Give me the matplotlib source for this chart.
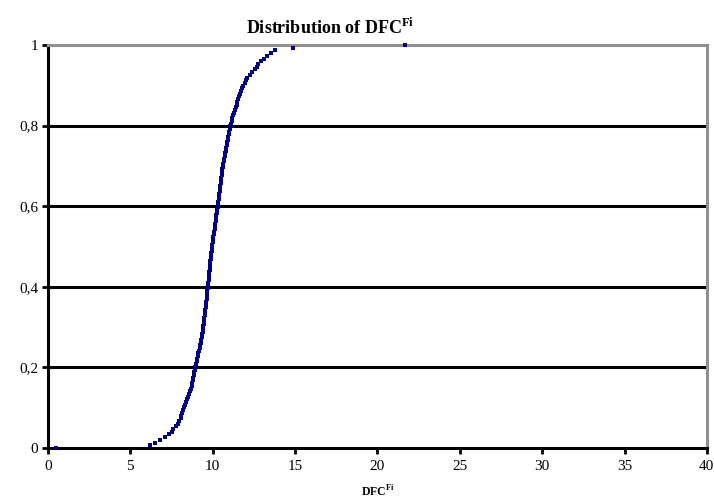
import numpy as np
import matplotlib.pyplot as plt

plt.rcParams['font.family'] = ['Liberation Serif', 'DejaVu Serif']
plt.rcParams['mathtext.fontset'] = 'custom'
plt.rcParams['mathtext.rm'] = 'Liberation Serif'
plt.rcParams['mathtext.bf'] = 'Liberation Serif:bold'

# sorted DFC^Fi sample values
dfc = [0.5, 6.2, 6.5, 6.8, 7.1, 7.35, 7.5, 7.62, 7.75, 7.9,
       7.98, 8.05, 8.1, 8.15, 8.2, 8.27, 8.33, 8.4, 8.46, 8.5,
       8.56, 8.62, 8.68, 8.72, 8.76, 8.8, 8.83, 8.86, 8.89, 8.92,
       8.95, 8.99, 9.03, 9.06, 9.1, 9.13, 9.17, 9.2, 9.24, 9.28,
       9.32, 9.35, 9.37, 9.39, 9.41, 9.43, 9.45, 9.47, 9.49, 9.51,
       9.53, 9.55, 9.57, 9.59, 9.61, 9.63, 9.64, 9.66, 9.68, 9.7,
       9.71, 9.73, 9.75, 9.76, 9.78, 9.8, 9.81, 9.83, 9.85, 9.86,
       9.88, 9.9, 9.91, 9.93, 9.95, 9.97, 10.0, 10.02, 10.04, 10.07,
       10.09, 10.11, 10.14, 10.16, 10.19, 10.21, 10.23, 10.26, 10.28, 10.3,
       10.32, 10.34, 10.36, 10.38, 10.4, 10.42, 10.44, 10.46, 10.48, 10.5,
       10.52, 10.54, 10.56, 10.58, 10.6, 10.63, 10.66, 10.69, 10.72, 10.75,
       10.78, 10.81, 10.84, 10.87, 10.9, 10.93, 10.96, 10.99, 11.02, 11.05,
       11.1, 11.15, 11.2, 11.25, 11.3, 11.35, 11.4, 11.45, 11.5, 11.55,
       11.6, 11.65, 11.7, 11.78, 11.86, 11.94, 12.02, 12.1, 12.25, 12.4,
       12.55, 12.7, 12.75, 12.95, 13.1, 13.3, 13.55, 13.8, 14.9, 21.7]

x_ticks = [0, 5, 10, 15, 20, 25, 30, 35, 40]
y_ticks = [0, 0.2, 0.4, 0.6, 0.8, 1]
y_labels = ['0', '0,2', '0,4', '0,6', '0,8', '1']

# empirical cumulative frequency
n = len(dfc)
freq = np.arange(n) / (n - 1)

fig = plt.figure(figsize=(7.14, 5.01), dpi=100)
ax = fig.add_axes([0.0672, 0.1058, 0.9228, 0.8042])

ax.plot(dfc, freq, linestyle='none', marker='s', markersize=2.3,
        markeredgewidth=0, color='#000080', zorder=4, clip_on=False)

for yv in y_ticks[1:-1]:
    ax.axhline(yv, color='black', linewidth=2.2, zorder=1)

ax.set_xlim(0, 40)
ax.set_ylim(0, 1)
ax.set_xticks(x_ticks)
ax.set_yticks(y_ticks)
ax.set_yticklabels(y_labels)
ax.tick_params(direction='out', length=4, width=2, colors='black',
               labelsize=11)
ax.tick_params(axis='x', pad=5)
ax.tick_params(axis='y', pad=3)

ax.spines['left'].set_linewidth(2.2)
ax.spines['bottom'].set_linewidth(2.2)
ax.spines['top'].set_color('#909090')
ax.spines['right'].set_color('#909090')
ax.spines['top'].set_linewidth(2.2)
ax.spines['right'].set_linewidth(2.2)

fig.text(330 / 714, 1 - 28 / 501, r'Distribution of DFC$^{\mathbf{Fi}}$',
         ha='center', va='center', fontsize=13, fontweight='bold')
fig.text(378 / 714, 1 - 491 / 501, r'DFC$^{\mathbf{Fi}}$',
         ha='center', va='center', fontsize=8.5, fontweight='bold')

fig.savefig('out.png', dpi=100)
